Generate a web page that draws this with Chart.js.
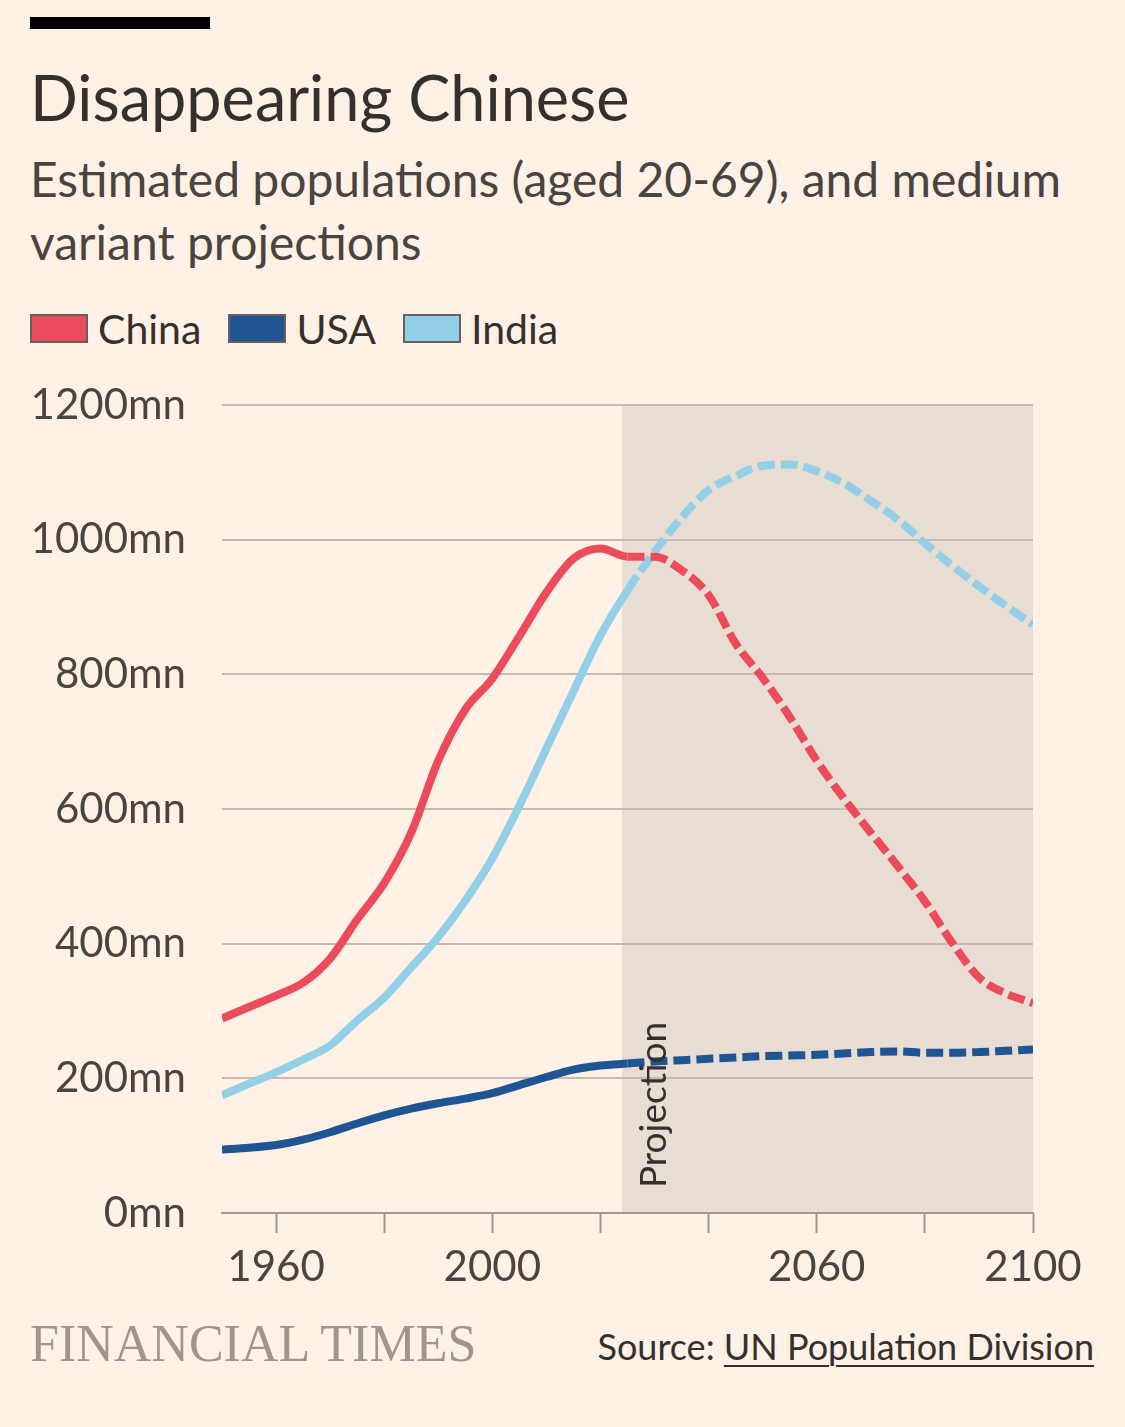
<!DOCTYPE html>
<html>
<head>
<meta charset="utf-8">
<script src="https://cdn.jsdelivr.net/npm/chart.js@4"></script>
<style>
  html, body { margin: 0; padding: 0; }
  body {
    width: 1125px; height: 1427px; overflow: hidden;
    background: #fff1e5; position: relative;
    font-family: Lato, "Open Sans", sans-serif; color: #33302e;
  }
  .bar { position: absolute; left: 30px; top: 17px; width: 180px; height: 12px; background: #000; }
  .title { position: absolute; left: 30px; top: 65px; font-size: 63px; line-height: 1; white-space: nowrap; }
  .subtitle { position: absolute; left: 30px; top: 147px; font-size: 48px; line-height: 63px; color: #4a4441; white-space: nowrap; }
  .legend { position: absolute; left: 30px; top: 308px; display: flex; align-items: center; font-size: 41px; line-height: 41px; }
  .legend .item { display: flex; align-items: center; margin-right: 27px; }
  .legend .box { width: 54px; height: 25px; border: 2px solid #6a605b; margin-right: 10px; }
  #chart { position: absolute; left: 0; top: 344px; }
  .ft { position: absolute; left: 30px; top: 1318px; font-family: "Liberation Serif", serif; font-size: 52px; line-height: 1; color: #9e958e; white-space: nowrap; }
  .source { position: absolute; right: 31px; top: 1328px; font-size: 36px; line-height: 1; white-space: nowrap; }
  .source u { text-decoration-thickness: 2px; text-underline-offset: 5px; }
</style>
</head>
<body>
<div class="bar"></div>
<div class="title">Disappearing Chinese</div>
<div class="subtitle">Estimated populations (aged 20-69), and medium<br>variant projections</div>
<div class="legend" id="legend"></div>
<canvas id="chart" width="1125" height="956"></canvas>
<div class="ft">FINANCIAL TIMES</div>
<div class="source">Source: <u>UN Population Division</u></div>

<script>
// Years (every 5 years, 1950-2100)
const years = [1950, 1955, 1960, 1965, 1970, 1975, 1980, 1985, 1990, 1995,
  2000, 2005, 2010, 2015, 2020, 2025, 2030, 2035, 2040, 2045,
  2050, 2055, 2060, 2065, 2070, 2075, 2080, 2085, 2090, 2095, 2100];

// Population aged 20-69, millions
const china = [289, 306, 323, 342, 378, 436, 490, 565, 672, 748,
  794, 857, 922, 972, 987, 975, 975, 955, 918, 846,
  795, 737, 672, 616, 565, 515, 463, 402, 350, 326, 312];
const usa = [94, 97, 101, 109, 120, 133, 145, 155, 163, 170,
  178, 190, 202, 213, 219, 222, 225, 227, 229, 231,
  233, 234, 235, 237, 239, 240, 238, 238, 239, 241, 243];
const india = [175, 192, 209, 228, 249, 286, 320, 365, 410, 464,
  527, 605, 690, 775, 858, 925, 982, 1033, 1074, 1095,
  1110, 1112, 1102, 1084, 1058, 1030, 995, 962, 931, 902, 874];

const seriesNames = ['China', 'USA', 'India'];
const seriesColors = ['#ec4b5c', '#1f5592', '#93cfe7'];

const projectionStart = 2024;
const xTickYears = [1960, 1980, 2000, 2020, 2040, 2060, 2080, 2100];
const xLabelYears = [1960, 2000, 2060, 2100];
const yMax = 1200;
const yStep = 200;

// Legend
const legend = document.getElementById('legend');
seriesNames.forEach((name, i) => {
  const item = document.createElement('div');
  item.className = 'item';
  const box = document.createElement('div');
  box.className = 'box';
  box.style.background = seriesColors[i];
  const label = document.createElement('span');
  label.textContent = name;
  item.appendChild(box);
  item.appendChild(label);
  legend.appendChild(item);
});

const toPoints = vals => vals.map((v, i) => ({ x: years[i], y: v }));

// Dashed after projection starts
const dashAfterProjection = ctx => ctx.p0.parsed.x >= projectionStart ? [17, 6] : undefined;

// Shaded projection area + its label
const projectionPlugin = {
  id: 'projection',
  beforeDraw(chart) {
    const { ctx, scales: { x, y } } = chart;
    const x0 = x.getPixelForValue(projectionStart);
    const x1 = x.getPixelForValue(x.max);
    const y0 = y.getPixelForValue(yMax);
    const y1 = y.getPixelForValue(0);
    ctx.save();
    ctx.fillStyle = '#e8ddd2';
    ctx.fillRect(x0, y0, x1 - x0, y1 - y0);
    ctx.restore();
  },
  afterDatasetsDraw(chart) {
    const { ctx, scales: { x, y } } = chart;
    ctx.save();
    ctx.translate(x.getPixelForValue(projectionStart) + 44, y.getPixelForValue(0) - 25);
    ctx.rotate(-Math.PI / 2);
    ctx.font = '37px Lato';
    ctx.fillStyle = '#33302e';
    ctx.textAlign = 'left';
    ctx.textBaseline = 'alphabetic';
    ctx.fillText('Projection', 0, 0);
    ctx.restore();
  }
};

const datasets = [china, usa, india].map((vals, i) => ({
  label: seriesNames[i],
  data: toPoints(vals),
  borderColor: seriesColors[i],
  borderWidth: 8,
  borderCapStyle: 'butt',
  borderJoinStyle: 'round',
  pointRadius: 0,
  cubicInterpolationMode: 'monotone',
  segment: { borderDash: dashAfterProjection }
}));

new Chart(document.getElementById('chart'), {
  type: 'line',
  data: { datasets: datasets },
  plugins: [projectionPlugin],
  options: {
    responsive: false,
    animation: false,
    devicePixelRatio: 1,
    layout: { padding: { top: 8, right: 92, left: 0, bottom: 0 } },
    plugins: { legend: { display: false }, tooltip: { enabled: false } },
    scales: {
      x: {
        type: 'linear',
        min: 1950,
        max: 2100,
        afterBuildTicks: scale => { scale.ticks = xTickYears.map(v => ({ value: v })); },
        afterFit: scale => { scale.height = 87; },
        grid: { drawOnChartArea: false, drawTicks: true, tickLength: 20, tickColor: '#9f968e', tickWidth: 2 },
        border: { display: true, color: '#a39a92', width: 2 },
        ticks: {
          autoSkip: false,
          maxRotation: 0,
          padding: 9,
          color: '#4a4441',
          font: { family: 'Lato', size: 42 },
          callback: v => xLabelYears.includes(v) ? String(v) : ''
        }
      },
      y: {
        min: 0,
        max: yMax,
        afterFit: scale => { scale.width = 222; },
        grid: { color: '#c5bbb2', lineWidth: 2, drawTicks: false },
        border: { display: false },
        ticks: {
          stepSize: yStep,
          padding: 36,
          color: '#4a4441',
          font: { family: 'Lato', size: 42 },
          callback: v => v + 'mn'
        }
      }
    }
  }
});
</script>
</body>
</html>
